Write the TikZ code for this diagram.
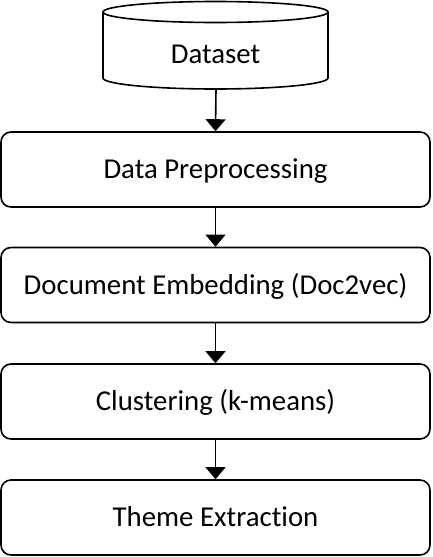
\documentclass[tikz,border=0pt]{standalone}
\usepackage{fontspec}
\setmainfont[Ligatures={NoCommon,NoRare}]{Carlito}
\usetikzlibrary{arrows.meta}
\begin{document}
\begin{tikzpicture}[x=1pt,y=-1pt,
  label font/.style={font=\fontsize{28.8}{33}\selectfont,
    text height=18.5pt, text depth=0pt},
  stepbox/.style={draw, line width=1.6pt, rounded corners=10pt,
    minimum width=429pt, minimum height=75pt, inner sep=0pt, label font},
  flow/.style={line width=0.8pt, -{Triangle[width=20pt,length=12pt]}},
  flowthick/.style={line width=1.6pt, -{Triangle[width=20pt,length=12pt]}}]
\useasboundingbox (0,0) rectangle (432,557);
% database cylinder
\draw[line width=1.6pt, fill=white]
  (103,12) -- (103,78) arc[start angle=180, end angle=360, x radius=112.5pt, y radius=11pt]
  -- (328,12);
\draw[line width=1.6pt] (215.5,12) ellipse[x radius=112.5pt, y radius=10.5pt];
\node[label font] (dataset) at (215.5,54) {Dataset};
\coordinate (dsbot) at (216,89);
% processing steps
\node[stepbox] (prep)  at (215.5,169.5) {Data Preprocessing};
\node[stepbox] (embed) at (215.5,285)   {Document Embedding (Doc2vec)};
\node[stepbox] (clust) at (215.5,401.5) {Clustering (k-means)};
\node[stepbox] (theme) at (215.5,517.5) {Theme Extraction};
% connectors
\draw[flowthick] (dsbot) -- (prep.north);
\draw[flow] (prep) -- (embed);
\draw[flow] (embed) -- (clust);
\draw[flow] (clust) -- (theme);
\end{tikzpicture}
\end{document}
